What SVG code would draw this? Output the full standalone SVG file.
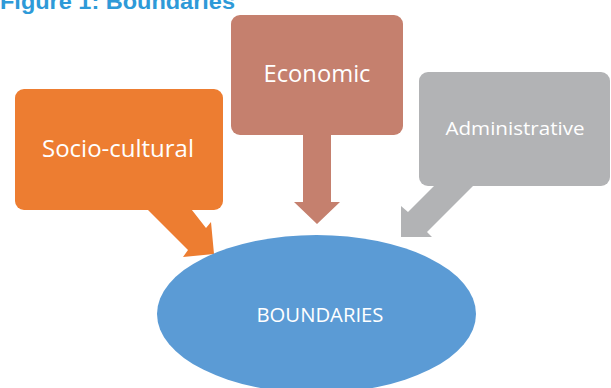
<svg xmlns="http://www.w3.org/2000/svg" width="611" height="388" viewBox="0 0 611 388">
<style>
.lbl{font-family:"Open Sans","Liberation Sans",sans-serif;fill:#FFFFFF;text-anchor:middle}
.title{font-family:"Liberation Sans",Arial,sans-serif;font-weight:bold;fill:#2E9AD8}
</style>
<rect width="611" height="388" fill="#FFFFFF"/>
<text class="title" x="0" y="9" font-size="22" textLength="235" lengthAdjust="spacingAndGlyphs">Figure 1: Boundaries</text>
<g id="connectors">
<polygon id="arrow-socio" points="143,205 188,205 206,228 211,222 214,254 183,257 188,250" fill="#ED7D31"/>
<polygon id="arrow-economic" points="303,130 331,130 331,202 340,202 317,224 294,202 303,202" fill="#C5806E"/>
<polygon id="arrow-admin" points="440,180 479,180 427,232 432,237 401,237 401,206 408,212" fill="#B2B3B5"/>
</g>
<g id="node-socio">
<rect x="15" y="89" width="208" height="121" rx="9" fill="#ED7D31"/>
<text class="lbl" x="118" y="157" font-size="24" textLength="152" lengthAdjust="spacingAndGlyphs">Socio-cultural</text>
</g>
<g id="node-economic">
<rect x="231" y="15" width="172" height="120" rx="9" fill="#C5806E"/>
<text class="lbl" x="317" y="82" font-size="23" textLength="107" lengthAdjust="spacingAndGlyphs">Economic</text>
</g>
<g id="node-admin">
<rect x="419" y="72" width="191" height="114" rx="9" fill="#B2B3B5"/>
<text class="lbl" x="515" y="135" font-size="19" textLength="139" lengthAdjust="spacingAndGlyphs">Administrative</text>
</g>
<g id="node-boundaries">
<ellipse cx="316.5" cy="314" rx="159.5" ry="79" fill="#5B9BD5"/>
<text class="lbl" x="320" y="322" font-size="20" textLength="127" lengthAdjust="spacingAndGlyphs">BOUNDARIES</text>
</g>
</svg>
